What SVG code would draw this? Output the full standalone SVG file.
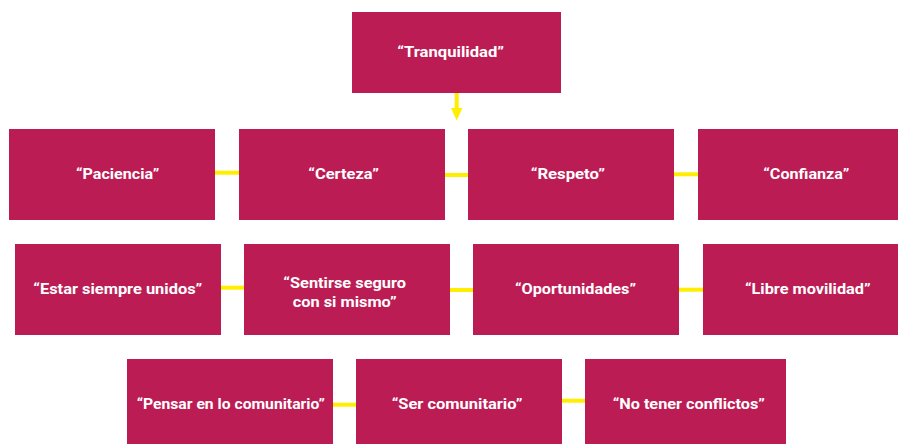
<svg xmlns="http://www.w3.org/2000/svg" width="898" height="444" viewBox="0 0 898 444">
<style>
.box{fill:#BC1C54}
.t{font-family:Roboto,"Liberation Sans",sans-serif;font-weight:700;font-size:15.5px;fill:#FFFFFF;text-anchor:middle}
.c{stroke:#FFEE00;stroke-width:4;fill:none}
</style>
<rect width="898" height="444" fill="#FFFFFF"/>
<g id="connectors">
<line class="c" x1="456.7" y1="92" x2="456.7" y2="109"/>
<polygon points="451,108 462.4,108 456.7,120.5" fill="#FFEE00"/>
<line class="c" x1="214" y1="172.7" x2="240" y2="172.7"/>
<line class="c" x1="444" y1="175" x2="469" y2="175"/>
<line class="c" x1="673" y1="174.3" x2="699" y2="174.3"/>
<line class="c" x1="220" y1="287.7" x2="245" y2="287.7"/>
<line class="c" x1="449" y1="290" x2="474" y2="290"/>
<line class="c" x1="678" y1="289.7" x2="704" y2="289.7"/>
<line class="c" x1="332" y1="404.7" x2="357" y2="404.7"/>
<line class="c" x1="561" y1="400.7" x2="586" y2="400.7"/>
</g>
<g id="n-tranquilidad"><rect class="box" x="352" y="12" width="209" height="81"/><text class="t" x="450.7" y="56.7" textLength="106.7" lengthAdjust="spacingAndGlyphs">“Tranquilidad”</text></g>
<g id="n-paciencia"><rect class="box" x="9" y="129" width="206" height="91"/><text class="t" x="117.7" y="179.3" textLength="83.3" lengthAdjust="spacingAndGlyphs">“Paciencia”</text></g>
<g id="n-certeza"><rect class="box" x="239" y="129" width="206" height="91"/><text class="t" x="343.7" y="179.3" textLength="70.7" lengthAdjust="spacingAndGlyphs">“Certeza”</text></g>
<g id="n-respeto"><rect class="box" x="468" y="129" width="206" height="91"/><text class="t" x="567.8" y="179.3" textLength="74.3" lengthAdjust="spacingAndGlyphs">“Respeto”</text></g>
<g id="n-confianza"><rect class="box" x="698" y="129" width="206" height="91"/><text class="t" x="806.3" y="179.3" textLength="86" lengthAdjust="spacingAndGlyphs">“Confianza”</text></g>
<g id="n-estar"><rect class="box" x="15" y="244" width="206" height="91"/><text class="t" x="117.8" y="294" textLength="169" lengthAdjust="spacingAndGlyphs">“Estar siempre unidos”</text></g>
<g id="n-sentirse"><rect class="box" x="244" y="244" width="206" height="91"/><text class="t" x="344.7" y="288.3" textLength="122.7" lengthAdjust="spacingAndGlyphs">“Sentirse seguro</text><text class="t" x="344.7" y="307" textLength="104" lengthAdjust="spacingAndGlyphs">con si mismo”</text></g>
<g id="n-oportunidades"><rect class="box" x="473" y="244" width="206" height="91"/><text class="t" x="575.5" y="294" textLength="121" lengthAdjust="spacingAndGlyphs">“Oportunidades”</text></g>
<g id="n-libre"><rect class="box" x="703" y="244" width="206" height="91"/><text class="t" x="807.8" y="294" textLength="125.7" lengthAdjust="spacingAndGlyphs">“Libre movilidad”</text></g>
<g id="n-pensar"><rect class="box" x="127" y="359" width="206" height="90"/><text class="t" x="230.8" y="409.3" textLength="188.3" lengthAdjust="spacingAndGlyphs">“Pensar en lo comunitario”</text></g>
<g id="n-ser"><rect class="box" x="356" y="359" width="206" height="90"/><text class="t" x="457" y="408.8" textLength="130.7" lengthAdjust="spacingAndGlyphs">“Ser comunitario”</text></g>
<g id="n-notener"><rect class="box" x="585" y="359" width="201" height="90"/><text class="t" x="688.8" y="409" textLength="152.3" lengthAdjust="spacingAndGlyphs">“No tener conflictos”</text></g>
</svg>
